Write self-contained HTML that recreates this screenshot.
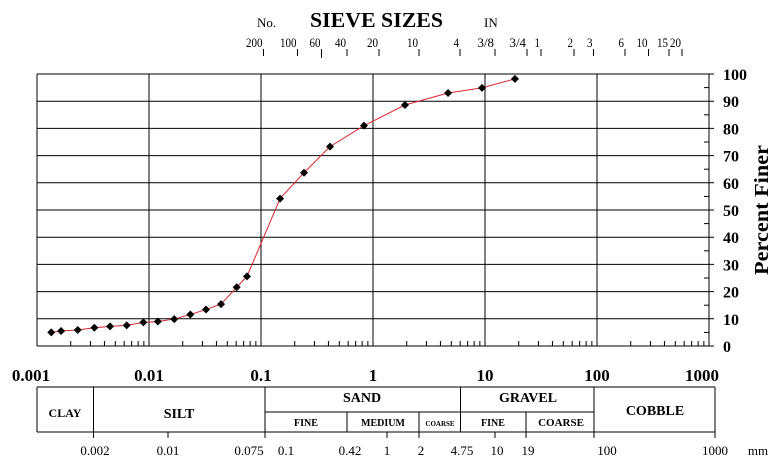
<!DOCTYPE html>
<html><head><meta charset="utf-8"><style>
body{margin:0;background:#fff;width:783px;height:472px;overflow:hidden}
svg{display:block;font-family:"Liberation Serif",serif}
</style></head><body>
<svg id="c" width="783" height="472">
<g id="grid"></g>
<g id="table"></g>
<g id="series"></g>
</svg>
<script>
const diameters=[0.00134,0.00164,0.00231,0.00325,0.00449,0.00632,0.0089,0.012,0.0168,0.0234,0.0323,0.044,0.0607,0.075,0.148,0.242,0.413,0.83,1.93,4.68,9.4,18.5];
const percentFiner=[5.0,5.5,5.9,6.7,7.2,7.6,8.7,9.0,9.9,11.6,13.4,15.4,21.6,25.6,54.2,63.7,73.3,81.0,88.6,93.0,94.9,98.2];
const decadeLabels=["0.001","0.01","0.1","1","10","100","1000"];
const yTicks=[0,10,20,30,40,50,60,70,80,90,100];
const sieveLabels=["200","100","60","40","20","10","4","3/8","3/4","1","2","3","6","10","15","20"];
const sieveTickX=[263.5,297.5,321.5,347,379,419,460,495,527,541,574,593.5,625,648.5,669,682];

const L=37,R=709,T=74,B=346;
const NS="http://www.w3.org/2000/svg";
function x(d){return L+(Math.log10(d)+3)*(R-L)/6;}
function y(p){return B-p*(B-T)/100;}
function el(tag,attrs,parent,text){const e=document.createElementNS(NS,tag);for(const k in attrs)e.setAttribute(k,attrs[k]);if(text!==undefined)e.textContent=text;parent.appendChild(e);return e;}
const svg=document.getElementById('c'),grid=document.getElementById('grid'),table=document.getElementById('table'),series=document.getElementById('series');

for(let i=0;i<=6;i++){const xx=L+i*(R-L)/6;const ln=el('line',{x1:xx,y1:T,x2:xx,y2:B,stroke:'#000','stroke-width':1},grid);
}
yTicks.forEach(v=>{const ln=el('line',{x1:L,y1:y(v),x2:R+(v%10==0?5:0),y2:y(v),stroke:'#000','stroke-width':1},grid);

const t=el('text',{x:723,y:y(v)+6,'font-size':16,'font-weight':'bold'},grid,String(v));

if(v<100){const m=el('line',{x1:R-5,y1:y(v+5),x2:R,y2:y(v+5),stroke:'#000'},grid);}});
el('line',{x1:L,y1:B,x2:R,y2:B,stroke:'#000'},grid);
for(let dec=-3;dec<3;dec++)for(let k=2;k<=9;k++){const xx=x(k*Math.pow(10,dec));const m=el('line',{x1:xx,y1:B-5,x2:xx,y2:B,stroke:'#000'},grid);
}
const yt=el('text',{x:0,y:0,'font-size':20,'font-weight':'bold','text-anchor':'middle',textLength:130,lengthAdjust:'spacingAndGlyphs',transform:'translate(768,210) rotate(-90)'},grid,'Percent  Finer');

decadeLabels.forEach((s,i)=>{let xx=L+i*(R-L)/6;if(i==0)xx=31;if(i==6)xx=702;
const t=el('text',{x:xx,y:381,'font-size':17,'font-weight':'bold','text-anchor':'middle'},grid,s);
});

const st=el('text',{x:310,y:27,'font-size':21,'font-weight':'bold',textLength:133,lengthAdjust:'spacingAndGlyphs'},grid,'SIEVE SIZES');
const no=el('text',{x:257,y:27,'font-size':13},grid,'No.');
const inn=el('text',{x:484,y:27,'font-size':13},grid,'IN');
sieveLabels.forEach((s,i)=>{const xx=sieveTickX[i];
const tk=el('line',{x1:xx,y1:49,x2:xx,y2:i==2?58:56,stroke:'#000'},grid);
const t=el('text',{x:xx-1,y:47,'font-size':13,'text-anchor':'end',textLength:s.length*5.5,lengthAdjust:'spacingAndGlyphs'},grid,s);});

const tl=[[37,387,715,387],[37,432,715,432],[37,387,37,432],[715,387,715,432],[93.5,387,93.5,438],[265,387,265,438],[460.5,387,460.5,432],[594,387,594,438],[265,412,594,412],[347,412,347,432],[419,412,419,438],[526,412,526,438],[387,432,387,438],[495,432,495,438],[168,432,168,438],[715,432,715,438]];
tl.forEach(a=>{const l=el('line',{x1:a[0],y1:a[1],x2:a[2],y2:a[3],stroke:'#000'},table);});
const cells=[['CLAY',65,417,12],['SILT',179,418,14],['SAND',362,402,14],['GRAVEL',528,402,14],['COBBLE',655,415,14],['FINE',306,426,10],['MEDIUM',383,426,10],['COARSE',440,426,7],['FINE',493,426,10],['COARSE',561,426,11]];
cells.forEach(c=>{const t=el('text',{x:c[1],y:c[2],'font-size':c[3],'font-weight':'bold','text-anchor':'middle'},table,c[0]);});
const bl=[['0.002',95],['0.01',168],['0.075',249],['0.1',286],['0.42',350],['1',387],['2',421],['4.75',462],['10',497],['19',528],['100',607],['1000',715],['mm',758]];
bl.forEach(b=>{const t=el('text',{x:b[1],y:455,'font-size':13,'text-anchor':'middle'},table,b[0]);});

const pts=diameters.map((d,i)=>x(d)+','+y(percentFiner[i])).join(' ');
const pl=el('polyline',{points:pts,fill:'none',stroke:'#d9262b','stroke-width':1},series);

diameters.forEach((d,i)=>{const cx=x(d),cy=y(percentFiner[i]);
const m=el('polygon',{points:`${cx},${cy-4} ${cx+4},${cy} ${cx},${cy+4} ${cx-4},${cy}`,fill:'#000'},series);
});
</script>
</body></html>
